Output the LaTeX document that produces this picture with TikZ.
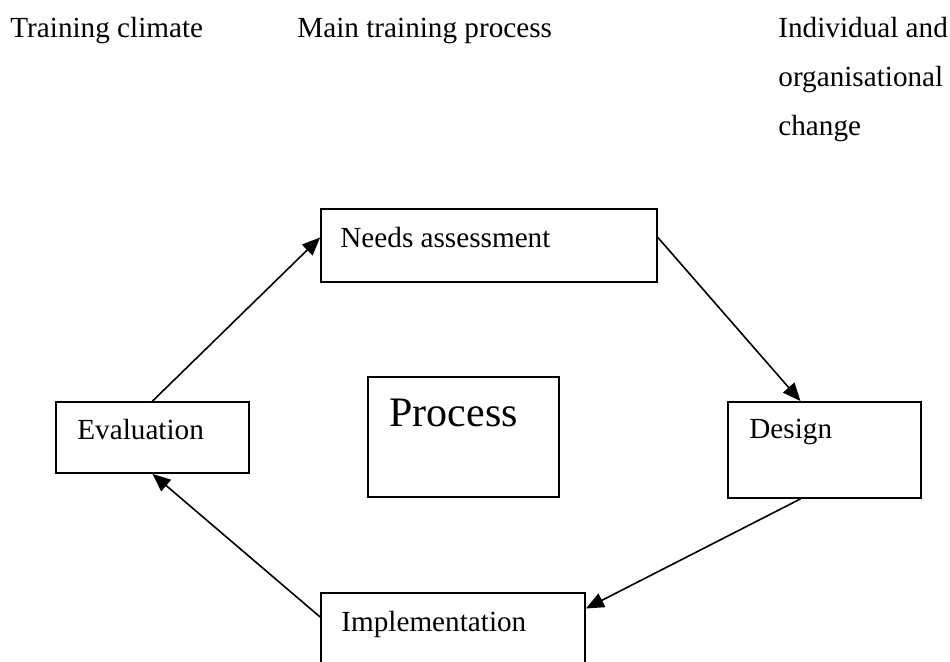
\documentclass[tikz,border=0pt]{standalone}
\usepackage{fontspec}
\setmainfont{Liberation Serif}
\usetikzlibrary{arrows.meta}
\begin{document}
\begin{tikzpicture}[x=0.5pt,y=-0.5pt,
  box/.style={draw=black,line width=0.9pt,rectangle,inner sep=0pt},
  lbl/.style={inner sep=0pt,anchor=base west,font=\fontsize{14.6}{17}\selectfont},
  conn/.style={line width=0.8pt,-{Triangle[length=9pt,width=7.5pt]}}]
\useasboundingbox (0,0) rectangle (950,662);
\clip (0,0) rectangle (950,662);
% header texts
\node[lbl] (t1) at (10,38) {Training climate};
\node[lbl] (t2) at (297,38) {Main training process};
\node[lbl] (t3) at (778,38) {Individual and};
\node[lbl] (t4) at (778,87) {organisational};
\node[lbl] (t5) at (778,136) {change};
% boxes
\node[box,minimum width=168pt,minimum height=36.5pt] (needs) at (489,245.5) {};
\node[box,minimum width=96.5pt,minimum height=35.5pt] (eval) at (152.5,437.5) {};
\node[box,minimum width=96.5pt,minimum height=48pt] (design) at (824.5,450) {};
\node[box,minimum width=95.5pt,minimum height=60pt] (proc) at (463.5,437) {};
\node[box,minimum width=132pt,minimum height=43.5pt] (impl) at (453,636.5) {};
% box texts
\node[lbl] (needsT) at (340,248) {Needs assessment};
\node[lbl] (evalT) at (77,440) {Evaluation};
\node[lbl] (designT) at (749,439) {Design};
\node[lbl] (implT) at (341,632) {Implementation};
\node[lbl,font=\fontsize{21}{25}\selectfont] (procT) at (389,427) {Process};
% connectors
\draw[conn] (eval.north) -- ([yshift=4pt]needs.west);
\draw[conn] ([yshift=4pt]needs.east) -- ([xshift=-12pt]design.north);
\draw[conn] ([xshift=-12pt]design.south) -- ([yshift=14pt]impl.east);
\draw[conn] ([yshift=9.75pt]impl.west) -- (eval.south);
\end{tikzpicture}
\end{document}
